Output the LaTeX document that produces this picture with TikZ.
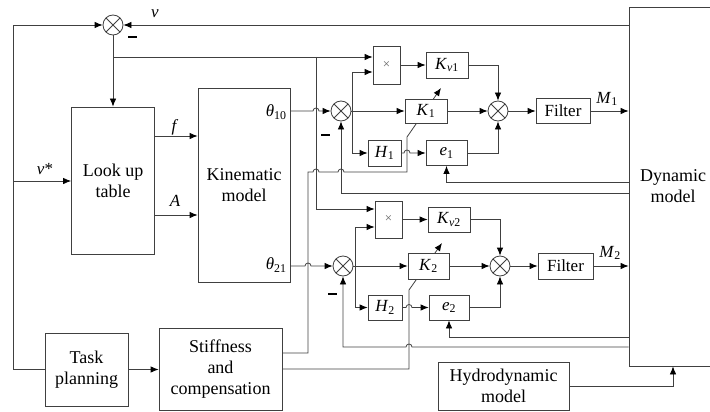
\documentclass[tikz,border=0pt]{standalone}
\usepackage{fontspec}
\setmainfont{Liberation Serif}
\usetikzlibrary{arrows.meta}
\newcommand\bigtxt{\fontsize{18}{21}\selectfont}
\begin{document}
\begin{tikzpicture}[x=1pt,y=-1pt,line width=0.8pt,color=black!75,
  every node/.append style={text=black},
  blk/.style={draw,fill=white,inner sep=0pt,align=center,font=\bigtxt},
  sblk/.style={draw,fill=white,inner sep=0pt,align=center,font=\fontsize{17}{20}\selectfont},
  lbl/.style={inner sep=0pt,font=\fontsize{17}{20}\selectfont},
  sumn/.style={circle,draw,fill=white,minimum size=20pt,inner sep=0pt,
    path picture={\draw (path picture bounding box.north west) -- (path picture bounding box.south east)
      (path picture bounding box.south west) -- (path picture bounding box.north east);}},
  arr/.style={-{Latex[length=8pt,width=6.5pt,color=black]}},
  minus/.style={line width=2pt,color=black}]
\useasboundingbox (0,0) rectangle (710,412);
\clip (0,0) rectangle (710,412);

% big blocks
\node[blk,minimum width=83,minimum height=147] (lut) at (113,180.5) {Look up\\table};
\node[blk,minimum width=92,minimum height=194] (kin) at (244,185) {Kinematic\\model};
\node[blk,minimum width=83,minimum height=73] (task) at (86.5,369.5) {Task\\planning};
\node[blk,minimum width=123,minimum height=82] (stf) at (220.5,369) {Stiffness\\and\\compensation};
\node[blk,minimum width=131,minimum height=48] (hyd) at (503.5,386) {Hydrodynamic\\model};
\node[blk,minimum width=88,minimum height=359] (dyn) at (673,186.5) {Dynamic\\model};

% sum junctions
\node[sumn] (s0) at (113,25) {};
\node[sumn] (s1) at (341,111) {};
\node[sumn] (s2) at (343,266) {};
\node[sumn] (s3) at (498,111) {};
\node[sumn] (s4) at (500,266) {};

% adjustment lines (behind gain blocks)
\draw[arr] (stf.east |- 0,353) -- (308,353) -- (308,172) -- (313,172)
  arc[start angle=180,end angle=360,radius=3] -- (338,172)
  arc[start angle=180,end angle=360,radius=3] -- (407,172) -- (407,137) -- (441,88);
\draw[arr] (stf.east |- 0,369) -- (409,369) -- (409,290) -- (442,243);

% small blocks, channel 1
\node[sblk,minimum width=27,minimum height=38,font=\fontsize{13}{15}\selectfont,text=black!60] (m1) at (386.5,65) {×};
\node[sblk,minimum width=42,minimum height=26] (kv1) at (447,65) {\textit{K}\textsubscript{\textit{v}1}};
\node[sblk,minimum width=42,minimum height=24] (k1) at (426,111) {\textit{K}\textsubscript{1}};
\node[sblk,minimum width=33,minimum height=26] (h1) at (384.5,153) {\textit{H}\textsubscript{1}};
\node[sblk,minimum width=41,minimum height=25] (e1) at (446.5,153) {\textit{e}\textsubscript{1}};
\node[sblk,minimum width=54,minimum height=25] (f1) at (563,111) {Filter};
% channel 2
\node[sblk,minimum width=27,minimum height=37,font=\fontsize{13}{15}\selectfont,text=black!60] (m2) at (388.5,219.5) {×};
\node[sblk,minimum width=42,minimum height=25] (kv2) at (449,219.5) {\textit{K}\textsubscript{\textit{v}2}};
\node[sblk,minimum width=41,minimum height=26] (k2) at (428.5,266) {\textit{K}\textsubscript{2}};
\node[sblk,minimum width=34,minimum height=25] (h2) at (385,307.5) {\textit{H}\textsubscript{2}};
\node[sblk,minimum width=40,minimum height=25] (e2) at (449,307.5) {\textit{e}\textsubscript{2}};
\node[sblk,minimum width=55,minimum height=26] (f2) at (565.5,266) {Filter};

% labels
\node[lbl] (lv) at (155,14) {\textit{v}};
\node[lbl] (lvs) at (45,169) {\textit{v}*};
\node[lbl] (lf) at (175,127) {\textit{f}};
\node[lbl] (lA) at (175,201) {\textit{A}};
\node[lbl,anchor=east] (lt10) at (287,112) {\textit{θ}\textsubscript{10}};
\node[lbl,anchor=east] (lt21) at (287,265) {\textit{θ}\textsubscript{21}};
\node[lbl] (lm1) at (607,99) {\textit{M}\textsubscript{1}};
\node[lbl] (lm2) at (610,253) {\textit{M}\textsubscript{2}};

% minus signs
\draw[minus] (128,37) -- (137,37);
\draw[minus] (321,135) -- (330,135);
\draw[minus] (328,294) -- (337,294);

% outer loop
\draw[arr] (task.west) -- ++(-31,0) |- (s0.west);
\coordinate (vs) at (14,181);
\draw[arr] (vs) -- (vs -| lut.west);
\draw[arr] (dyn.west |- s0) -- (s0.east);
\draw[arr] (s0.south) -- (lut.north);
\coordinate (b0) at (113,57);
\draw[arr] (b0) -- ([yshift=8pt]m1.west);
\coordinate (b1) at (316,57);
\draw[arr] (b1) |- ([yshift=10.5pt]m2.west);
\draw[arr] (lut.east |- 0,136) -- (kin.west |- 0,136);
\draw[arr] (lut.east |- 0,215) -- (kin.west |- 0,215);

% channel 1
\draw[arr] (kin.east |- s1) -- (313,111) arc[start angle=180,end angle=360,radius=3] -- (s1.west);
\draw[arr] (s1.east) -- (k1.west);
\coordinate (b2) at (352,111);
\draw[arr] (b2) |- ([yshift=-7pt]m1.west);
\draw[arr] (b2) |- (h1.west);
\draw[arr] (m1.east) -- (kv1.west);
\draw[arr] (kv1.east) -| (s3.north);
\draw[arr] (k1.east) -- (s3.west);
\draw[arr] (h1.east) -- (404,153) arc[start angle=180,end angle=360,radius=3] -- (e1.west);
\draw[arr] (e1.east) -| (s3.south);
\draw[arr] (s3.east) -- (f1.west);
\draw[arr] (f1.east) -- (f1.east -| dyn.west);
\draw[arr] (dyn.west |- 0,182) -| (e1.south);
\draw[arr] (dyn.west |- 0,193) -| (s1.south);

% channel 2
\draw[arr] (kin.east |- s2) -- (305,266) arc[start angle=180,end angle=360,radius=3] -- (s2.west);
\draw[arr] (s2.east) -- (k2.west);
\coordinate (b3) at (355,266);
\draw[arr] (b3) |- ([yshift=-7.5pt]m2.west);
\draw[arr] (b3) |- (h2.west);
\draw[arr] (m2.east) -- (kv2.west);
\draw[arr] (kv2.east) -| (s4.north);
\draw[arr] (k2.east) -- (s4.west);
\draw[arr] (h2.east) -- (406,307.5) arc[start angle=180,end angle=360,radius=3] -- (e2.west);
\draw[arr] (e2.east) -| (s4.south);
\draw[arr] (s4.east) -- (f2.west);
\draw[arr] (f2.east) -- (f2.east -| dyn.west);
\draw[arr] (dyn.west |- 0,337) -| (e2.south);
\draw[arr] (dyn.west |- 0,347) -- (412,347) arc[start angle=0,end angle=-180,radius=3] -| (s2.south);

% bottom
\draw[arr] (task.east) -- (stf.west |- task.east);
\draw[arr] (hyd.east) -| (dyn.south);
\end{tikzpicture}
\end{document}
